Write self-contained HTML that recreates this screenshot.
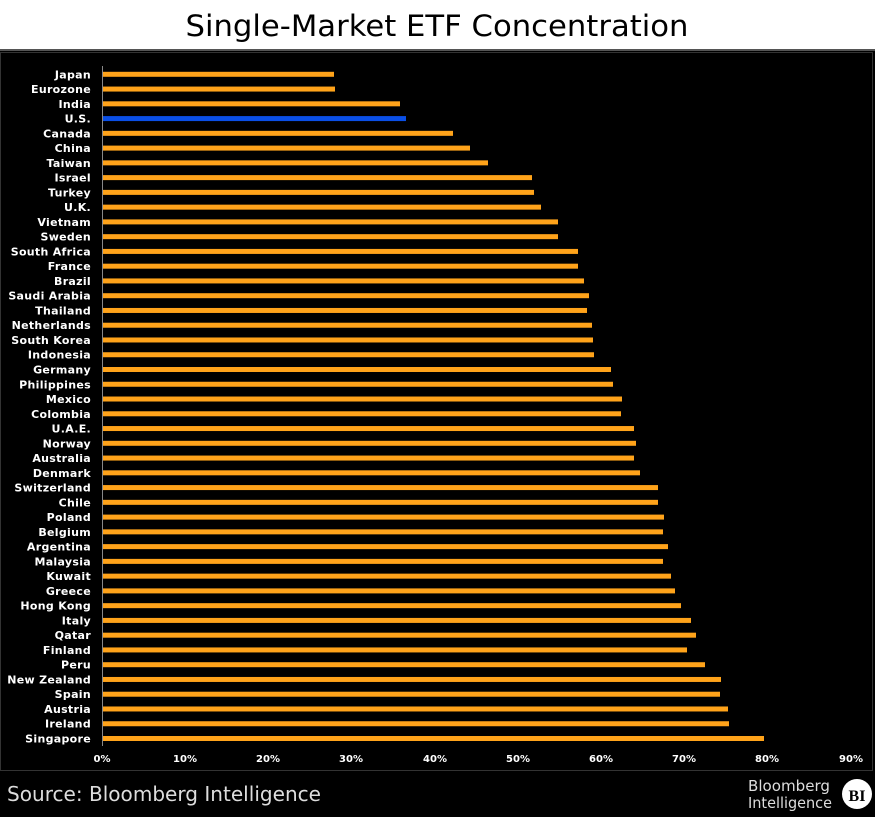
<!DOCTYPE html>
<html><head><meta charset="utf-8"><style>
html,body{margin:0;padding:0;background:#fff;}
</style></head><body>
<svg width="875" height="817" xmlns="http://www.w3.org/2000/svg" font-family="'DejaVu Sans', 'Liberation Sans', sans-serif">
<rect x="0" y="0" width="875" height="817" fill="#fff"/>
<text x="437" y="36" text-anchor="middle" font-size="29" textLength="503" lengthAdjust="spacingAndGlyphs" fill="#000">Single-Market ETF Concentration</text>
<rect x="0" y="49" width="875" height="768" fill="#000"/>
<rect x="0" y="49" width="875" height="2" fill="#555"/>
<rect x="0.5" y="52.5" width="872" height="718" fill="none" stroke="#333" stroke-width="1"/>
<line x1="102.5" y1="66" x2="102.5" y2="746" stroke="#888" stroke-width="1"/>
<g font-size="11" font-weight="bold" fill="#fff" text-anchor="end" letter-spacing="0.3">
<g transform="translate(0,74.3)"><rect x="103" y="-2.5" width="231" height="5" fill="#ffa31a"/><text x="91" y="4">Japan</text></g>
<g transform="translate(0,89.06)"><rect x="103" y="-2.5" width="232" height="5" fill="#ffa31a"/><text x="91" y="4">Eurozone</text></g>
<g transform="translate(0,103.82)"><rect x="103" y="-2.5" width="297" height="5" fill="#ffa31a"/><text x="91" y="4">India</text></g>
<g transform="translate(0,118.58)"><rect x="103" y="-2.5" width="303" height="5" fill="#0a4fe6"/><text x="91" y="4">U.S.</text></g>
<g transform="translate(0,133.34)"><rect x="103" y="-2.5" width="350" height="5" fill="#ffa31a"/><text x="91" y="4">Canada</text></g>
<g transform="translate(0,148.1)"><rect x="103" y="-2.5" width="367" height="5" fill="#ffa31a"/><text x="91" y="4">China</text></g>
<g transform="translate(0,162.86)"><rect x="103" y="-2.5" width="385" height="5" fill="#ffa31a"/><text x="91" y="4">Taiwan</text></g>
<g transform="translate(0,177.62)"><rect x="103" y="-2.5" width="429" height="5" fill="#ffa31a"/><text x="91" y="4">Israel</text></g>
<g transform="translate(0,192.38)"><rect x="103" y="-2.5" width="431" height="5" fill="#ffa31a"/><text x="91" y="4">Turkey</text></g>
<g transform="translate(0,207.14)"><rect x="103" y="-2.5" width="438" height="5" fill="#ffa31a"/><text x="91" y="4">U.K.</text></g>
<g transform="translate(0,221.9)"><rect x="103" y="-2.5" width="455" height="5" fill="#ffa31a"/><text x="91" y="4">Vietnam</text></g>
<g transform="translate(0,236.66)"><rect x="103" y="-2.5" width="455" height="5" fill="#ffa31a"/><text x="91" y="4">Sweden</text></g>
<g transform="translate(0,251.42)"><rect x="103" y="-2.5" width="475" height="5" fill="#ffa31a"/><text x="91" y="4">South Africa</text></g>
<g transform="translate(0,266.18)"><rect x="103" y="-2.5" width="475" height="5" fill="#ffa31a"/><text x="91" y="4">France</text></g>
<g transform="translate(0,280.94)"><rect x="103" y="-2.5" width="481" height="5" fill="#ffa31a"/><text x="91" y="4">Brazil</text></g>
<g transform="translate(0,295.7)"><rect x="103" y="-2.5" width="486" height="5" fill="#ffa31a"/><text x="91" y="4">Saudi Arabia</text></g>
<g transform="translate(0,310.46)"><rect x="103" y="-2.5" width="484" height="5" fill="#ffa31a"/><text x="91" y="4">Thailand</text></g>
<g transform="translate(0,325.22)"><rect x="103" y="-2.5" width="489" height="5" fill="#ffa31a"/><text x="91" y="4">Netherlands</text></g>
<g transform="translate(0,339.98)"><rect x="103" y="-2.5" width="490" height="5" fill="#ffa31a"/><text x="91" y="4">South Korea</text></g>
<g transform="translate(0,354.74)"><rect x="103" y="-2.5" width="491" height="5" fill="#ffa31a"/><text x="91" y="4">Indonesia</text></g>
<g transform="translate(0,369.5)"><rect x="103" y="-2.5" width="508" height="5" fill="#ffa31a"/><text x="91" y="4">Germany</text></g>
<g transform="translate(0,384.26)"><rect x="103" y="-2.5" width="510" height="5" fill="#ffa31a"/><text x="91" y="4">Philippines</text></g>
<g transform="translate(0,399.02)"><rect x="103" y="-2.5" width="519" height="5" fill="#ffa31a"/><text x="91" y="4">Mexico</text></g>
<g transform="translate(0,413.78)"><rect x="103" y="-2.5" width="518" height="5" fill="#ffa31a"/><text x="91" y="4">Colombia</text></g>
<g transform="translate(0,428.54)"><rect x="103" y="-2.5" width="531" height="5" fill="#ffa31a"/><text x="91" y="4">U.A.E.</text></g>
<g transform="translate(0,443.3)"><rect x="103" y="-2.5" width="533" height="5" fill="#ffa31a"/><text x="91" y="4">Norway</text></g>
<g transform="translate(0,458.06)"><rect x="103" y="-2.5" width="531" height="5" fill="#ffa31a"/><text x="91" y="4">Australia</text></g>
<g transform="translate(0,472.82)"><rect x="103" y="-2.5" width="537" height="5" fill="#ffa31a"/><text x="91" y="4">Denmark</text></g>
<g transform="translate(0,487.58)"><rect x="103" y="-2.5" width="555" height="5" fill="#ffa31a"/><text x="91" y="4">Switzerland</text></g>
<g transform="translate(0,502.34)"><rect x="103" y="-2.5" width="555" height="5" fill="#ffa31a"/><text x="91" y="4">Chile</text></g>
<g transform="translate(0,517.1)"><rect x="103" y="-2.5" width="561" height="5" fill="#ffa31a"/><text x="91" y="4">Poland</text></g>
<g transform="translate(0,531.86)"><rect x="103" y="-2.5" width="560" height="5" fill="#ffa31a"/><text x="91" y="4">Belgium</text></g>
<g transform="translate(0,546.62)"><rect x="103" y="-2.5" width="565" height="5" fill="#ffa31a"/><text x="91" y="4">Argentina</text></g>
<g transform="translate(0,561.38)"><rect x="103" y="-2.5" width="560" height="5" fill="#ffa31a"/><text x="91" y="4">Malaysia</text></g>
<g transform="translate(0,576.14)"><rect x="103" y="-2.5" width="568" height="5" fill="#ffa31a"/><text x="91" y="4">Kuwait</text></g>
<g transform="translate(0,590.9)"><rect x="103" y="-2.5" width="572" height="5" fill="#ffa31a"/><text x="91" y="4">Greece</text></g>
<g transform="translate(0,605.66)"><rect x="103" y="-2.5" width="578" height="5" fill="#ffa31a"/><text x="91" y="4">Hong Kong</text></g>
<g transform="translate(0,620.42)"><rect x="103" y="-2.5" width="588" height="5" fill="#ffa31a"/><text x="91" y="4">Italy</text></g>
<g transform="translate(0,635.18)"><rect x="103" y="-2.5" width="593" height="5" fill="#ffa31a"/><text x="91" y="4">Qatar</text></g>
<g transform="translate(0,649.94)"><rect x="103" y="-2.5" width="584" height="5" fill="#ffa31a"/><text x="91" y="4">Finland</text></g>
<g transform="translate(0,664.7)"><rect x="103" y="-2.5" width="602" height="5" fill="#ffa31a"/><text x="91" y="4">Peru</text></g>
<g transform="translate(0,679.46)"><rect x="103" y="-2.5" width="618" height="5" fill="#ffa31a"/><text x="91" y="4">New Zealand</text></g>
<g transform="translate(0,694.22)"><rect x="103" y="-2.5" width="617" height="5" fill="#ffa31a"/><text x="91" y="4">Spain</text></g>
<g transform="translate(0,708.98)"><rect x="103" y="-2.5" width="625" height="5" fill="#ffa31a"/><text x="91" y="4">Austria</text></g>
<g transform="translate(0,723.74)"><rect x="103" y="-2.5" width="626" height="5" fill="#ffa31a"/><text x="91" y="4">Ireland</text></g>
<g transform="translate(0,738.5)"><rect x="103" y="-2.5" width="661" height="5" fill="#ffa31a"/><text x="91" y="4">Singapore</text></g>
</g>
<g font-size="10" font-weight="bold" fill="#fff" text-anchor="middle">
<text x="102" y="762">0%</text><text x="185" y="762">10%</text><text x="268" y="762">20%</text><text x="351" y="762">30%</text><text x="435" y="762">40%</text><text x="518" y="762">50%</text><text x="601" y="762">60%</text><text x="684" y="762">70%</text><text x="767" y="762">80%</text><text x="851" y="762">90%</text>
</g>
<text x="7" y="801" font-size="20" fill="#ddd" textLength="314" lengthAdjust="spacingAndGlyphs">Source: Bloomberg Intelligence</text>
<text x="748" y="791" font-size="15" fill="#ddd" textLength="82" lengthAdjust="spacingAndGlyphs">Bloomberg</text>
<text x="748" y="808" font-size="15" fill="#ddd" textLength="84" lengthAdjust="spacingAndGlyphs">Intelligence</text>
<circle cx="857" cy="794" r="15" fill="#fff"/>
<text x="857" y="801" font-size="16" font-weight="bold" text-anchor="middle" fill="#000" font-family="'Liberation Serif', serif">BI</text>
</svg>
</body></html>
